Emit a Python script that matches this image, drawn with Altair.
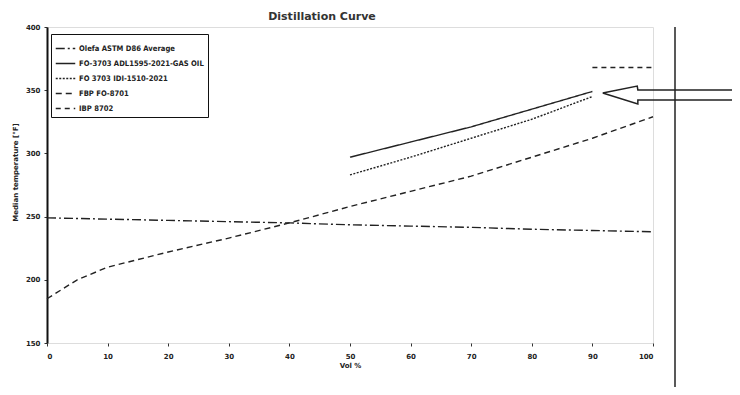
import altair as alt
import pandas as pd

# ---- data ----
series_names = [
    "Olefa ASTM D86 Average",
    "FO-3703 ADL1595-2021-GAS OIL",
    "FO 3703 IDI-1510-2021",
    "FBP FO-8701",
    "IBP 8702",
]

avg_x = [0, 10, 20, 30, 40, 50, 60, 70, 80, 90, 100]
avg_y = [249, 248, 247, 246, 245, 243.5, 242.5, 241.5, 240, 239, 238]

gas_x = [50, 60, 70, 80, 90]
gas_y = [297, 309, 321, 335, 349]

d1_x = [50, 60, 70, 80, 90]
d1_y = [283, 297, 312, 327, 345]

fbp_x = [0, 5, 10, 20, 30, 40, 50, 60, 70, 80, 90, 100]
fbp_y = [185, 200, 210, 222, 233, 245, 258, 270, 282, 297, 312, 329]

ibp_x = [90, 100]
ibp_y = [368, 368]

# annotation arrow outline (vol %, temperature)
arrow_x = [91.7, 97.4, 97.5, 114.4, 114.4, 97.5, 97.5, 91.7]
arrow_y = [347.8, 353.3, 350.2, 350.2, 342.2, 342.2, 339.1, 347.8]

x_ticks = [0, 10, 20, 30, 40, 50, 60, 70, 80, 90, 100]
y_ticks = [150, 200, 250, 300, 350, 400]

rows = []
for name, xs, ys in zip(series_names,
                        [avg_x, gas_x, d1_x, fbp_x, ibp_x],
                        [avg_y, gas_y, d1_y, fbp_y, ibp_y]):
    for xv, yv in zip(xs, ys):
        rows.append({"series": name, "vol": xv, "temp": yv})
df = pd.DataFrame(rows)

arrow_df = pd.DataFrame({"vol": arrow_x, "temp": arrow_y,
                         "o": list(range(len(arrow_x)))})

FONT = "DejaVu Sans"
LFONT = "DejaVu Sans Condensed"

dashes = [[9, 3, 2, 3], [1, 0], [2, 1.5], [6, 4], [5, 4]]

lines = alt.Chart(df).mark_line(strokeWidth=1.4).encode(
    x=alt.X("vol:Q", scale=alt.Scale(domain=[0, 100], nice=False),
            axis=alt.Axis(values=x_ticks, title="Vol %", grid=False,
                          domain=False, tickSize=3, tickColor="#333",
                          labelFont=FONT, labelFontSize=7, labelFontWeight="bold",
                          labelColor="#222", labelPadding=6,
                          titleFont=FONT, titleFontSize=7, titleFontWeight="bold",
                          titleColor="#222", titlePadding=2)),
    y=alt.Y("temp:Q", scale=alt.Scale(domain=[150, 400], nice=False),
            axis=alt.Axis(values=y_ticks, title="Median temperature [°F]",
                          grid=False, domainColor="#111", domainWidth=2,
                          tickSize=3, tickColor="#333",
                          labelFont=FONT, labelFontSize=7, labelFontWeight="bold",
                          labelColor="#222", labelPadding=4,
                          titleFont=FONT, titleFontSize=7, titleFontWeight="bold",
                          titleColor="#222", titleX=-32, titleY=145,
                          titleAngle=-90, titleAlign="center",
                          titleBaseline="middle")),
    color=alt.Color("series:N",
                    scale=alt.Scale(domain=series_names,
                                    range=["#222"] * 5),
                    legend=alt.Legend(title=None, orient="none",
                                      legendX=4, legendY=7,
                                      strokeColor="#111", padding=4,
                                      symbolType="stroke",
                                      symbolSize=380, symbolStrokeWidth=1.4,
                                      labelFont=LFONT, labelFontSize=7.6,
                                      labelFontWeight="bold",
                                      labelColor="#222", labelLimit=200,
                                      labelOffset=3, rowPadding=-4,
                                      fillColor="white")),
    strokeDash=alt.StrokeDash("series:N",
                              scale=alt.Scale(domain=series_names,
                                              range=dashes),
                              legend=alt.Legend(title=None, orient="none",
                                                legendX=4, legendY=7)),
    detail="series:N",
)

arrow = alt.Chart(arrow_df).mark_line(color="#222", strokeWidth=1.5).encode(
    x="vol:Q", y="temp:Q", order="o:Q"
)

border = alt.Chart(pd.DataFrame({"k": [0]})).mark_rule(
    color="#222", strokeWidth=1.5
).encode(x=alt.value(628), y=alt.value(0), y2=alt.value(360))

chart = alt.layer(lines, arrow, border).properties(
    width=606, height=316,
    title=alt.TitleParams("Distillation Curve", font=FONT, fontSize=11,
                          fontWeight="bold", color="#333", anchor="middle",
                          dx=-28, offset=1),
    autosize=alt.AutoSizeParams(type="none"),
    padding={"left": 39, "top": 19, "right": 79, "bottom": 44},
).configure_view(stroke=None).configure(background="white")

chart.save("out.html", embed_options={"renderer": "svg", "actions": False})
